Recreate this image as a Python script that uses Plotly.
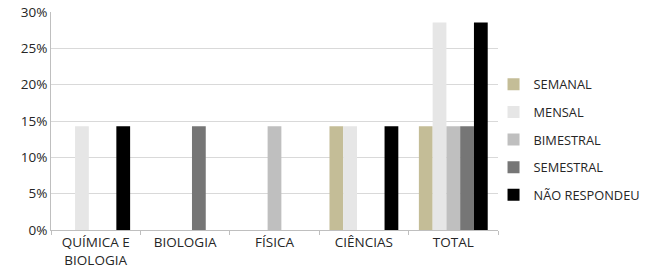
import plotly.graph_objects as go

categories = ["QUÍMICA E<br>BIOLOGIA", "BIOLOGIA", "FÍSICA", "CIÊNCIAS", "TOTAL"]
series_names = ["SEMANAL", "MENSAL", "BIMESTRAL", "SEMESTRAL", "NÃO RESPONDEU"]
semanal = [0, 0, 0, 0.1429, 0.1429]
mensal = [0.1429, 0, 0, 0.1429, 0.2857]
bimestral = [0, 0, 0.1429, 0, 0.1429]
semestral = [0, 0.1429, 0, 0, 0.1429]
nao_respondeu = [0.1429, 0, 0, 0.1429, 0.2857]
values = [semanal, mensal, bimestral, semestral, nao_respondeu]
colors = ["#C4BD97", "#E6E6E6", "#BFBFBF", "#767676", "#000000"]
y_ticks = [0, 0.05, 0.10, 0.15, 0.20, 0.25, 0.30]
y_tick_labels = ["0%", "5%", "10%", "15%", "20%", "25%", "30%"]

fig = go.Figure()
for name, vals, col in zip(series_names, values, colors):
    fig.add_trace(go.Bar(x=categories, y=vals, name=name, marker_color=col,
                         marker_line_width=0, legendgroup=name))

font = dict(family="Open Sans, Noto Sans, sans-serif", size=13.5, color="#262626")
legend_font = dict(family="Open Sans, Noto Sans, sans-serif", size=12.8, color="#262626")
fig.update_layout(
    width=647, height=274,
    margin=dict(l=51, r=149, t=12, b=44, autoexpand=False),
    paper_bgcolor="white", plot_bgcolor="white",
    barmode="group", bargap=0.23, bargroupgap=0,
    font=font,
    showlegend=True,
    legend=dict(x=0.99, xanchor="left", y=0.413, yanchor="middle",
                traceorder="grouped", tracegroupgap=8, font=legend_font,
                bgcolor="rgba(0,0,0,0)"),
    xaxis=dict(type="category", showline=True, linecolor="#BFBFBF", linewidth=1,
               ticks="outside", tickson="boundaries", ticklen=4, tickcolor="#BFBFBF",
               showgrid=False, tickfont=font, automargin=False),
    yaxis=dict(range=[0, 0.30], tickvals=y_ticks, ticktext=y_tick_labels,
               showline=True, linecolor="#BFBFBF", linewidth=1,
               showgrid=True, gridcolor="#D9D9D9", gridwidth=1,
               zeroline=False, ticks="", tickfont=font, automargin=False),
)
fig.write_html("out.html", config={"displayModeBar": False},
               post_script="document.body.style.margin='0';")
